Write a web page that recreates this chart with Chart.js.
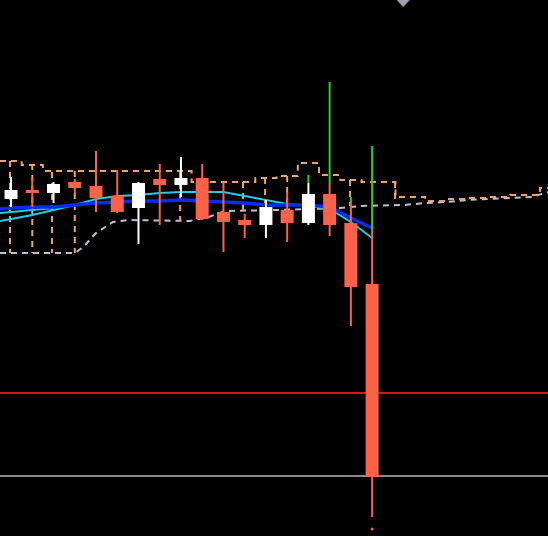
<!DOCTYPE html>
<html>
<head>
<meta charset="utf-8">
<script src="https://cdn.jsdelivr.net/npm/chart.js@4.4.1/dist/chart.umd.min.js"></script>
<style>
  html, body { margin: 0; padding: 0; background: #000; }
  canvas { display: block; }
</style>
</head>
<body>
<canvas id="priceChart" width="548" height="536"></canvas>
<script>
// candles (bar index, OHLC)
const bars   = [0, 1, 2, 3, 4, 5, 6, 7, 8, 9, 10, 11, 12, 13, 14, 15, 16, 17];
const opens  = [130.1, 131.0, 130.7, 131.8, 131.4, 130.4, 129.2, 132.1, 131.5, 132.2, 128.8, 128.0, 127.5, 129.0, 127.7, 130.6, 127.7, 121.6];
const closes = [131.0, 130.7, 131.6, 131.2, 130.2, 128.8, 131.7, 131.5, 132.2, 128.1, 127.8, 127.5, 129.3, 127.7, 130.6, 127.5, 121.3, 102.3];
const highs  = [132.3, 132.2, 131.8, 132.1, 134.9, 133.0, 131.8, 133.6, 134.3, 133.6, 131.7, 128.6, 130.0, 130.8, 131.7, 131.7, 129.7, 127.0];
const lows   = [129.3, 129.3, 129.7, 130.5, 128.8, 128.7, 125.6, 127.5, 130.3, 128.0, 124.8, 126.2, 126.2, 125.8, 127.5, 126.4, 117.4, 98.3];

// green spikes above the last candles
const spikeBars = [14, 15, 16, 17];
const spikeLow  = [131.7, 131.7, 129.7, 127.0];
const spikeHigh = [132.5, 141.8, 130.3, 135.4];

// moving averages
const maBars  = [-0.52, 0, 1, 2, 3, 4, 5, 6, 7, 8, 9, 10, 11, 12, 13, 14, 15, 16, 17];
const maSlow  = [129.1, 129.2, 129.3, 129.3, 129.5, 129.7, 129.8, 129.9, 129.9, 130.0, 129.9, 129.8, 129.7, 129.5, 129.5, 129.5, 129.3, 128.2, 127.2];
const maFast  = [127.9, 128.1, 128.5, 129.0, 129.5, 130.1, 130.4, 130.5, 130.7, 130.8, 130.8, 130.8, 130.4, 130.0, 129.6, 129.4, 129.1, 127.8, 126.2];
const maShortBars = [-0.52, 0, 1, 2];
const maShort = [128.7, 128.8, 129.0, 129.2];

// channel (upper is stepped)
const upperBars = [-0.52, 0.5, 1.5, 8.5, 11.5, 12.5, 13.5, 14.5, 15.5, 16.5, 18.1, 19.5, 20.5, 21.5, 22.5, 23.5, 24.9, 25.3];
const upperVals = [133.9, 133.5, 132.9, 131.8, 132.2, 132.4, 133.7, 132.5, 132.0, 131.8, 130.3, 129.9, 130.1, 130.2, 130.3, 130.5, 131.2, 131.2];
const lowerBars = [-0.52, 3.0, 3.4, 4.0, 4.8, 5.5, 8.4, 9.3, 10.1, 12.5, 15.5, 16.5, 18.5, 19.5, 20.5, 21.5, 22.5, 23.5, 24.5, 25.3];
const lowerVals = [124.7, 124.7, 125.3, 126.7, 127.8, 128.0, 127.9, 128.3, 128.9, 129.0, 129.2, 129.4, 129.5, 129.7, 129.8, 130.0, 130.1, 130.2, 130.3, 130.8];

// box edges between the channel lines
const edgeBars   = [-0.05, 1.0, 1.93, 3.0, 7.96, 10.92, 11.96, 13.0, 15.96, 18.08];
const edgeTop    = [133.9, 133.6, 132.8, 132.9, 132.8, 131.8, 132.2, 132.4, 132.0, 131.8];
const edgeBottom = [124.7, 124.7, 124.7, 124.7, 127.9, 128.9, 129.0, 129.0, 129.4, 129.5];

// levels and markers
const redLevel = 110.7;
const grayLevel = 102.4;
const levelSpan = [-0.52, 25.3];
const arrowBar = 18.46, arrowPrice = 149.65;
const dotBar = 17, dotPrice = 97.1;

const colors = {
    up: '#ffffff',
    down: '#fb6247',
    spike: '#1fd81f',
    slow: '#0a2cf5',
    fast: '#1ecde6',
    upper: '#e9a468',
    lower: '#c6bcd2',
    red: '#dc1414',
    gray: '#858b92',
    arrow: '#9aa4b4'
};

const candleColors = bars.map((b, i) => closes[i] >= opens[i] ? colors.up : colors.down);

function pts(xs, ys) {
    return xs.map((x, i) => ({ x: x, y: ys[i] }));
}

// small flat down-arrow
const arrowImg = document.createElement('canvas');
arrowImg.width = 13;
arrowImg.height = 7;
const actx = arrowImg.getContext('2d');
actx.fillStyle = colors.arrow;
actx.beginPath();
actx.moveTo(0, 0);
actx.lineTo(13, 0);
actx.lineTo(6.5, 7);
actx.closePath();
actx.fill();

const edgeData = [];
edgeBars.forEach((x, i) => {
    edgeData.push({ x: x, y: edgeTop[i] }, { x: x, y: edgeBottom[i] }, { x: x, y: null });
});

new Chart(document.getElementById('priceChart'), {
    type: 'bar',
    data: {
        datasets: [{
            type: 'line',
            data: pts(levelSpan, [redLevel, redLevel]),
            borderColor: colors.red,
            borderWidth: 2,
            pointRadius: 0,
            order: 20
        }, {
            type: 'line',
            data: pts(levelSpan, [grayLevel, grayLevel]),
            borderColor: colors.gray,
            borderWidth: 2,
            pointRadius: 0,
            order: 20
        }, {
            type: 'line',
            data: pts(lowerBars, lowerVals),
            borderColor: colors.lower,
            borderWidth: 2,
            borderDash: [6, 5],
            pointRadius: 0,
            order: 15
        }, {
            type: 'line',
            data: pts(upperBars, upperVals),
            borderColor: colors.upper,
            borderWidth: 2,
            borderDash: [6, 5],
            stepped: true,
            pointRadius: 0,
            order: 14
        }, {
            type: 'line',
            data: edgeData,
            borderColor: colors.upper,
            borderWidth: 2,
            borderDash: [6, 5],
            spanGaps: false,
            pointRadius: 0,
            order: 14
        }, {
            type: 'line',
            data: pts(maShortBars, maShort),
            borderColor: colors.fast,
            borderWidth: 2,
            pointRadius: 0,
            order: 12
        }, {
            type: 'line',
            data: pts(maBars, maFast),
            borderColor: colors.fast,
            borderWidth: 2,
            pointRadius: 0,
            order: 11
        }, {
            type: 'line',
            data: pts(maBars, maSlow),
            borderColor: colors.slow,
            borderWidth: 3.5,
            pointRadius: 0,
            order: 10
        }, {
            // wicks
            data: bars.map((b, i) => ({ x: b, y: [lows[i], highs[i]] })),
            backgroundColor: candleColors,
            grouped: false,
            maxBarThickness: 2,
            order: 6
        }, {
            // bodies
            data: bars.map((b, i) => ({ x: b, y: [opens[i], closes[i]] })),
            backgroundColor: candleColors,
            grouped: false,
            maxBarThickness: 13,
            order: 5
        }, {
            data: spikeBars.map((b, i) => ({ x: b, y: [spikeLow[i], spikeHigh[i]] })),
            backgroundColor: colors.spike,
            grouped: false,
            maxBarThickness: 2,
            order: 4
        }, {
            type: 'line',
            data: [{ x: dotBar, y: dotPrice }],
            showLine: false,
            pointRadius: 1.5,
            pointBackgroundColor: colors.down,
            pointBorderWidth: 0,
            order: 1
        }, {
            type: 'line',
            data: [{ x: arrowBar, y: arrowPrice }],
            showLine: false,
            pointStyle: arrowImg,
            clip: false,
            order: 0
        }]
    },
    options: {
        responsive: false,
        animation: false,
        events: [],
        layout: { padding: 0, autoPadding: false },
        plugins: {
            legend: { display: false },
            tooltip: { enabled: false }
        },
        scales: {
            x: {
                type: 'linear',
                min: -0.52,
                max: 25.28,
                offset: false,
                display: false
            },
            y: {
                min: 96.4,
                max: 150,
                display: false
            }
        }
    }
});
</script>
</body>
</html>
